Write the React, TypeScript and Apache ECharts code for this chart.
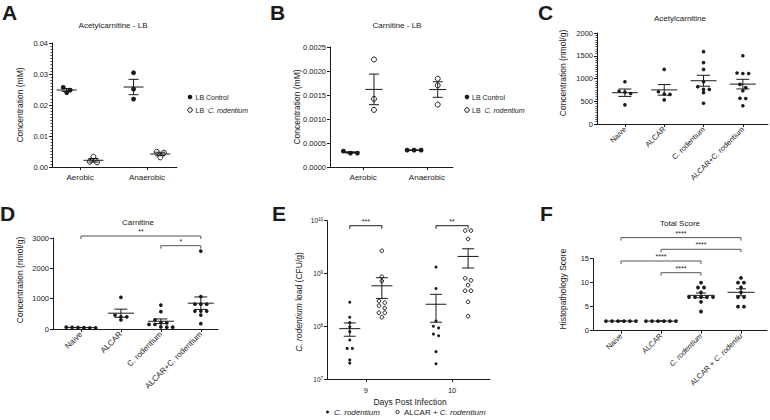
import React, { useEffect, useRef } from 'react';
import * as echarts from 'echarts';

// ---------------- DATA ----------------
// Panel A: Acetylcarnitine - LB (mM)
const A_CATEGORIES = ['Aerobic', 'Anaerobic'];
const A_CONTROL = [[0.0257, 0.024, 0.0248], [0.0304, 0.0251, 0.0219]];
const A_RODENTIUM = [[0.0033, 0.0015, 0.0017], [0.0049, 0.0031, 0.0046]];

// Panel B: Carnitine - LB (mM)
const B_CATEGORIES = ['Aerobic', 'Anaerobic'];
const B_CONTROL = [[0.00029, 0.00033, 0.00029], [0.00035, 0.00035, 0.00035]];
const B_RODENTIUM = [[0.00224, 0.00142, 0.00119], [0.00184, 0.0017, 0.0013]];

// Panel C: Acetylcarnitine (nmol/g)
const C_CATEGORIES = ['Naive', 'ALCAR', 'C. rodentium', 'ALCAR+C. rodentium'];
const C_VALUES = [
  [930, 720, 700, 670, 420],
  [1200, 710, 660, 650, 530],
  [1590, 1350, 1200, 930, 820, 760, 760, 690, 455],
  [1500, 1120, 1110, 1110, 870, 800, 730, 565, 560, 400],
];

// Panel D: Carnitine (nmol/g)
const D_CATEGORIES = ['Naive', 'ALCAR', 'C. rodentium', 'ALCAR+C. rodentium'];
const D_VALUES = [
  [50, 60, 40, 45, 55, 35],
  [1045, 460, 400, 400, 300],
  [790, 570, 300, 200, 200, 150, 150, 70, 60, 60],
  [2570, 1070, 820, 820, 820, 590, 590, 590, 460, 175],
];
const D_BRACKETS = [
  { from: 2, to: 3, label: '*', level: 0 },
  { from: 0, to: 3, label: '**', level: 1 },
];

// Panel E: C. rodentium load (CFU/g)
const E_DAYS = [9, 10];
const E_CROD = [
  [2.84e8, 1.48e8, 1.17e8, 9.8e7, 7.9e7, 5.5e7, 3.8e7, 3.8e7, 2.3e7, 2.0e7],
  [1.32e9, 5.2e8, 1.26e8, 1.0e8, 9.3e7, 7.1e7, 6.6e7, 3.3e7, 1.95e7],
];
const E_ALCAR = [
  [2.69e9, 8.7e8, 7.2e8, 3.0e8, 2.8e8, 2.45e8, 2.2e8, 1.8e8, 1.8e8, 1.48e8],
  [6.5e9, 6.5e9, 4.5e9, 8.1e8, 7.4e8, 6.0e8, 4.7e8, 4.7e8, 2.9e8, 1.55e8],
];
const E_BRACKETS = [
  { day: 0, label: '***' },
  { day: 1, label: '**' },
];

// Panel F: Histopathology total score
const F_CATEGORIES = ['Naive', 'ALCAR', 'C. rodentium', 'ALCAR + C. rodentiu'];
const F_VALUES = [
  [2, 2, 2, 2, 2, 2],
  [2, 2, 2, 2, 2, 2],
  [10, 9, 9, 8, 7, 7, 7, 7, 7, 6, 4],
  [11, 10, 10, 9, 8, 7, 7, 5, 5],
];
const F_BRACKETS = [
  { from: 1, to: 2, label: '****', level: 0 },
  { from: 0, to: 2, label: '****', level: 1 },
  { from: 1, to: 3, label: '****', level: 2 },
  { from: 0, to: 3, label: '****', level: 3 },
];

// ---------------- LAYOUT / STYLE ----------------
const W = 770;
const H = 420;
const FONT = '"Liberation Sans", Arial, Helvetica, sans-serif';
const INK = '#1a1a1a';
const GREY = '#555';

type Panel = {
  left: number; top: number; width: number; height: number;
  xMin: number; xMax: number; yMin: number; yMax: number; interval?: number; log?: boolean;
};

const P: Record<string, Panel> = {
  A: { left: 52, top: 43, width: 125, height: 124, xMin: -0.42, xMax: 1.45, yMin: 0, yMax: 0.04, interval: 0.01 },
  B: { left: 330, top: 47, width: 123, height: 120, xMin: -0.52, xMax: 1.41, yMin: 0, yMax: 0.0025, interval: 0.0005 },
  C: { left: 597, top: 33, width: 171, height: 91, xMin: -0.71, xMax: 3.64, yMin: 0, yMax: 2000, interval: 500 },
  D: { left: 53, top: 238, width: 165, height: 91, xMin: -0.7, xMax: 3.43, yMin: 0, yMax: 3000, interval: 1000 },
  E: { left: 327, top: 220.7, width: 163, height: 158.3, xMin: 8.55, xMax: 10.44, yMin: 1e7, yMax: 1e10, log: true },
  F: { left: 593, top: 258.7, width: 174, height: 72, xMin: -0.7, xMax: 3.65, yMin: 0, yMax: 15, interval: 5 },
};
const ORDER = ['A', 'B', 'C', 'D', 'E', 'F'];

function pxOf(p: Panel, v: number) {
  if (p.log) {
    const a = Math.log10(p.yMin), b = Math.log10(p.yMax);
    return p.top + (p.height * (b - Math.log10(v))) / (b - a);
  }
  return p.top + (p.height * (p.yMax - v)) / (p.yMax - p.yMin);
}

// simple row-based dot layout (points at similar height are put side by side)
function swarm(p: Panel, values: number[], center: number, d: number) {
  const unit = p.width / (p.xMax - p.xMin);
  const spacing = d + 2.2;
  const idx = values.map((_, i) => i).sort((a, b) => pxOf(p, values[a]) - pxOf(p, values[b]));
  const off = new Array(values.length).fill(0);
  let row: number[] = [];
  let start = 0;
  const flush = () => row.forEach((id, k) => (off[id] = (k - (row.length - 1) / 2) * spacing));
  idx.forEach((id) => {
    const y = pxOf(p, values[id]);
    if (row.length && y - start > d * 0.9) { flush(); row = []; }
    if (!row.length) start = y;
    row.push(id);
  });
  flush();
  return values.map((v, i) => [center + off[i] / unit, v]);
}

function stats(values: number[]) {
  const n = values.length;
  const m = values.reduce((s, v) => s + v, 0) / n;
  const sd = Math.sqrt(values.reduce((s, v) => s + (v - m) * (v - m), 0) / (n - 1));
  return { m, sem: sd / Math.sqrt(n) };
}

function gridOf(p: Panel) {
  return { left: p.left, top: p.top, width: p.width, height: p.height, containLabel: false };
}

function xAxisOf(i: number, p: Panel, ticks: number[], formatter: (v: number) => string, extra: any = {}) {
  return {
    gridIndex: i, type: 'value', min: p.xMin, max: p.xMax,
    splitLine: { show: false },
    axisLine: { show: true, onZero: false, lineStyle: { color: INK, width: 1 } },
    axisTick: { show: true, customValues: ticks, length: 3, lineStyle: { color: INK, width: 1 } },
    axisLabel: {
      customValues: ticks, formatter, color: INK, fontFamily: FONT, fontSize: 8, margin: 5,
      ...extra,
    },
  };
}

function yAxisOf(i: number, p: Panel, formatter: any, minor = false) {
  const base: any = {
    gridIndex: i,
    splitLine: { show: false },
    axisLine: { show: true, onZero: false, lineStyle: { color: INK, width: 1 } },
    axisTick: { show: true, length: 3, lineStyle: { color: INK, width: 1 } },
    axisLabel: { formatter, color: INK, fontFamily: FONT, fontSize: 7.5, margin: 4 },
  };
  if (p.log) {
    return {
      ...base, type: 'log', logBase: 10, min: p.yMin, max: p.yMax,
      axisLabel: {
        ...base.axisLabel, fontSize: 6.5,
        rich: { s: { fontSize: 4.5, verticalAlign: 'top', fontFamily: FONT, color: INK, lineHeight: 7 } },
      },
    };
  }
  return {
    ...base, type: 'value', min: p.yMin, max: p.yMax, interval: p.interval,
    minorTick: minor ? { show: true, splitNumber: 10, length: 1.5, lineStyle: { color: INK, width: 0.8 } } : { show: false },
  };
}

function scatter(i: number, data: number[][], filled: boolean, size: number) {
  return {
    type: 'scatter', xAxisIndex: i, yAxisIndex: i, data, symbol: 'circle', symbolSize: size,
    itemStyle: { color: filled ? INK : '#fff', borderColor: INK, borderWidth: filled ? 0 : 1, opacity: 1 },
    silent: true, z: 4,
  };
}

function errorBars(i: number, data: number[][], meanW: number, capW: number, floor: number) {
  return {
    type: 'custom', xAxisIndex: i, yAxisIndex: i, data, encode: { x: 0, y: 1 }, silent: true, z: 5,
    renderItem: (_params: any, api: any) => {
      const x = api.value(0), m = api.value(1), s = api.value(2);
      const c = api.coord([x, m]);
      const hi = api.coord([x, m + s]);
      const lo = api.coord([x, Math.max(m - s, floor)]);
      const st = { stroke: INK, lineWidth: 1 };
      return {
        type: 'group',
        children: [
          { type: 'line', shape: { x1: c[0] - meanW / 2, y1: c[1], x2: c[0] + meanW / 2, y2: c[1] }, style: st },
          { type: 'line', shape: { x1: c[0], y1: hi[1], x2: c[0], y2: lo[1] }, style: st },
          { type: 'line', shape: { x1: c[0] - capW / 2, y1: hi[1], x2: c[0] + capW / 2, y2: hi[1] }, style: st },
          { type: 'line', shape: { x1: c[0] - capW / 2, y1: lo[1], x2: c[0] + capW / 2, y2: lo[1] }, style: st },
        ],
      };
    },
  };
}

function brackets(i: number, p: Panel, list: { from: number; to: number; label: string; level: number }[], base: number, step: number, color: string) {
  return {
    type: 'custom', xAxisIndex: i, yAxisIndex: i, clip: false, silent: true, z: 6,
    data: list.map((b) => [b.from, b.to, p.yMax, b.level]),
    encode: { x: [0, 1], y: 2 },
    renderItem: (params: any, api: any) => {
      const a = api.coord([api.value(0), api.value(2)]);
      const b = api.coord([api.value(1), api.value(2)]);
      const y = a[1] + base - api.value(3) * step;
      const st = { stroke: color, lineWidth: 1, fill: null };
      return {
        type: 'group',
        children: [
          { type: 'polyline', shape: { points: [[a[0], y + 3], [a[0], y], [b[0], y], [b[0], y + 3]] }, style: st },
          {
            type: 'text', x: (a[0] + b[0]) / 2, y: y - 1,
            style: { text: list[params.dataIndex].label, fill: INK, font: `7px ${FONT}`, align: 'center', verticalAlign: 'bottom', textAlign: 'center', textVerticalAlign: 'bottom' },
          },
        ],
      };
    },
  };
}

function txt(x: number, y: number, text: string, size: number, opts: any = {}) {
  const { rotation, align = 'center', vAlign = 'middle', weight = 'normal', rich } = opts;
  return {
    type: 'text', x, y, rotation: rotation || 0, silent: true,
    style: {
      text, fill: INK, font: `${weight} ${size}px ${FONT}`,
      align, verticalAlign: vAlign, textAlign: align, textVerticalAlign: vAlign,
      rich,
    },
  };
}

function dot(x: number, y: number, r: number, filled: boolean) {
  return {
    type: 'circle', shape: { cx: x, cy: y, r }, silent: true,
    style: { fill: filled ? INK : '#fff', stroke: INK, lineWidth: filled ? 0 : 1 },
  };
}

function buildOption() {
  const grid = ORDER.map((k) => gridOf(P[k]));
  const xAxis: any[] = [];
  const yAxis: any[] = [];
  const series: any[] = [];
  const italic = { i: { fontStyle: 'italic', fontFamily: FONT, fontSize: 8, color: INK } };

  // ---- A ----
  {
    const p = P.A, i = 0;
    xAxis.push(xAxisOf(i, p, [0, 1], (v) => A_CATEGORIES[Math.round(v)], { margin: 6 }));
    yAxis.push(yAxisOf(i, p, (v: number) => v.toFixed(2), true));
    const ctl: number[][] = [], rod: number[][] = [], eb: number[][] = [];
    A_CATEGORIES.forEach((_, c) => {
      ctl.push(...swarm(p, A_CONTROL[c], c - 0.2, 4.8));
      rod.push(...swarm(p, A_RODENTIUM[c], c + 0.2, 5));
      const s1 = stats(A_CONTROL[c]); eb.push([c - 0.2, s1.m, s1.sem]);
      const s2 = stats(A_RODENTIUM[c]); eb.push([c + 0.2, s2.m, s2.sem]);
    });
    series.push(errorBars(i, eb, 20, 10, 0), scatter(i, ctl, true, 4.8), scatter(i, rod, false, 5));
  }
  // ---- B ----
  {
    const p = P.B, i = 1;
    xAxis.push(xAxisOf(i, p, [0, 1], (v) => B_CATEGORIES[Math.round(v)], { margin: 6 }));
    yAxis.push(yAxisOf(i, p, (v: number) => v.toFixed(4)));
    const ctl: number[][] = [], rod: number[][] = [], eb: number[][] = [];
    B_CATEGORIES.forEach((_, c) => {
      ctl.push(...swarm(p, B_CONTROL[c], c - 0.2, 4.8));
      rod.push(...swarm(p, B_RODENTIUM[c], c + 0.17, 5));
      const s1 = stats(B_CONTROL[c]); eb.push([c - 0.2, s1.m, s1.sem]);
      const s2 = stats(B_RODENTIUM[c]); eb.push([c + 0.17, s2.m, s2.sem]);
    });
    series.push(errorBars(i, eb, 17, 10, 0), scatter(i, ctl, true, 4.8), scatter(i, rod, false, 5));
  }
  // ---- C ----
  {
    const p = P.C, i = 2;
    xAxis.push(xAxisOf(i, p, [0, 1, 2, 3], (v) => C_CATEGORIES[Math.round(v)], { rotate: 45, fontSize: 7.5, margin: 4 }));
    yAxis.push(yAxisOf(i, p, (v: number) => String(v), true));
    const pts: number[][] = [], eb: number[][] = [];
    C_VALUES.forEach((vals, c) => {
      pts.push(...swarm(p, vals, c, 3.6));
      const s = stats(vals); eb.push([c, s.m, s.sem]);
    });
    series.push(errorBars(i, eb, 26, 13, 0), scatter(i, pts, true, 3.6));
  }
  // ---- D ----
  {
    const p = P.D, i = 3;
    xAxis.push(xAxisOf(i, p, [0, 1, 2, 3], (v) => D_CATEGORIES[Math.round(v)], { rotate: 45, fontSize: 8, margin: 4 }));
    yAxis.push(yAxisOf(i, p, (v: number) => String(v)));
    const pts: number[][] = [], eb: number[][] = [];
    D_VALUES.forEach((vals, c) => {
      pts.push(...swarm(p, vals, c, 3.7));
      const s = stats(vals); eb.push([c, s.m, s.sem]);
    });
    series.push(errorBars(i, eb, 26, 13, 0), scatter(i, pts, true, 3.7), brackets(i, p, D_BRACKETS, 7.7, 9.7, GREY));
  }
  // ---- E ----
  {
    const p = P.E, i = 4;
    const off = 0.186;
    xAxis.push(xAxisOf(i, p, E_DAYS, (v) => String(Math.round(v)), { fontSize: 7.5, margin: 7 }));
    yAxis.push(yAxisOf(i, p, (v: number) => `10{s|${Math.round(Math.log10(v))}}`));
    const crod: number[][] = [], alc: number[][] = [], eb: number[][] = [];
    E_DAYS.forEach((d, k) => {
      crod.push(...swarm(p, E_CROD[k], d - off, 3));
      alc.push(...swarm(p, E_ALCAR[k], d + off, 3.6));
      const s1 = stats(E_CROD[k]); eb.push([d - off, s1.m, s1.sem]);
      const s2 = stats(E_ALCAR[k]); eb.push([d + off, s2.m, s2.sem]);
    });
    const br = E_BRACKETS.map((b) => ({ from: E_DAYS[b.day] - off, to: E_DAYS[b.day] + off, label: b.label, level: 0 }));
    series.push(
      errorBars(i, eb, 21, 12, 1.1e7),
      scatter(i, crod, true, 3),
      scatter(i, alc, false, 3.6),
      brackets(i, p, br, 5, 0, INK),
    );
  }
  // ---- F ----
  {
    const p = P.F, i = 5;
    xAxis.push(
      xAxisOf(i, p, [0, 1, 2, 3], (v) => {
        const k = Math.round(v);
        if (k === 2) return '{i|C. rodentium}';
        if (k === 3) return 'ALCAR + {i|C. rodentiu}';
        return F_CATEGORIES[k];
      }, { rotate: 45, fontSize: 7.5, margin: 4, rich: { i: { ...italic.i, fontSize: 7.5 } } }),
    );
    yAxis.push(yAxisOf(i, p, (v: number) => String(v)));
    const pts: number[][] = [], eb: number[][] = [];
    F_VALUES.forEach((vals, c) => {
      pts.push(...swarm(p, vals, c, 3.8));
      const s = stats(vals); eb.push([c, s.m, s.sem]);
    });
    series.push(errorBars(i, eb, 27, 10, 0), scatter(i, pts, true, 3.8), brackets(i, p, F_BRACKETS, 14, 11.7, GREY));
  }

  const graphics: any[] = [
    // panel letters
    txt(2, 12, 'A', 21, { align: 'left', weight: 'bold' }),
    txt(270, 12, 'B', 21, { align: 'left', weight: 'bold' }),
    txt(538, 12, 'C', 21, { align: 'left', weight: 'bold' }),
    txt(0, 213, 'D', 21, { align: 'left', weight: 'bold' }),
    txt(272, 213, 'E', 21, { align: 'left', weight: 'bold' }),
    txt(540, 213, 'F', 21, { align: 'left', weight: 'bold' }),
    // titles
    txt(113, 25, 'Acetylcarnitine - LB', 8),
    txt(397, 25, 'Carnitine - LB', 8),
    txt(680, 18, 'Acetylcarnitine', 8),
    txt(138, 222, 'Carnitine', 8),
    txt(680, 223, 'Total Score', 8),
    // y titles
    txt(20, 105, 'Concentration (mM)', 8.5, { rotation: Math.PI / 2 }),
    txt(297, 107, 'Concentration (mM)', 8.5, { rotation: Math.PI / 2 }),
    txt(563, 73, 'Concentration (nmol/g)', 8.5, { rotation: Math.PI / 2 }),
    txt(20, 280, 'Concentration (nmol/g)', 8.5, { rotation: Math.PI / 2 }),
    txt(299, 302, '{i|C. rodentium} load (CFU/g)', 8.5, { rotation: Math.PI / 2, rich: { i: { ...italic.i, fontSize: 8.5 } } }),
    txt(563, 289, 'Histopathology Score', 8.5, { rotation: Math.PI / 2 }),
    // x title E
    txt(410, 402, 'Days Post Infection', 8.5),
    // legends A
    dot(190, 97, 2.3, true),
    txt(195.5, 97.5, 'LB Control', 7, { align: 'left' }),
    dot(190, 110, 2.3, false),
    txt(195.5, 110.5, 'LB  {i|C. rodentium}', 7, { align: 'left', rich: { i: { ...italic.i, fontSize: 7 } } }),
    // legends B
    dot(467, 97, 2.3, true),
    txt(472, 97.5, 'LB Control', 7, { align: 'left' }),
    dot(467, 110, 2.3, false),
    txt(472, 110.5, 'LB  {i|C. rodentium}', 7, { align: 'left', rich: { i: { ...italic.i, fontSize: 7 } } }),
    // legend E
    dot(327.5, 412, 1.5, true),
    txt(334, 412.5, '{i|C. rodentium}', 8, { align: 'left', rich: italic }),
    dot(397.5, 412, 1.7, false),
    txt(404, 412.5, 'ALCAR + {i|C. rodentium}', 8, { align: 'left', rich: italic }),
  ];

  return {
    animation: false,
    backgroundColor: '#fff',
    textStyle: { fontFamily: FONT },
    grid,
    xAxis,
    yAxis,
    series,
    graphic: graphics,
  };
}

export default function App() {
  const ref = useRef<HTMLDivElement>(null);
  useEffect(() => {
    document.body.style.margin = '0';
    const chart = echarts.init(ref.current!, null, { renderer: 'svg', width: W, height: H });
    chart.setOption(buildOption() as any);
    return () => chart.dispose();
  }, []);
  return <div ref={ref} style={{ width: W, height: H, background: '#fff' }} />;
}
